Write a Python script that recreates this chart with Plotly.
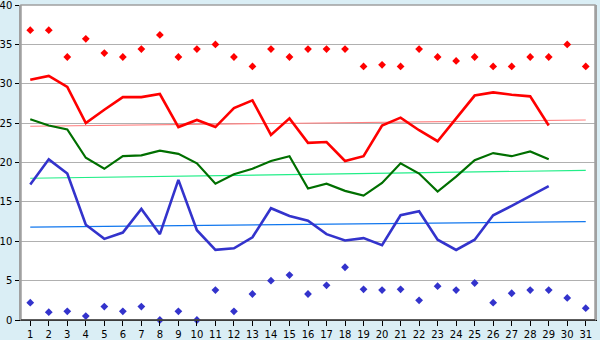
import plotly.graph_objects as go

days = list(range(1, 32))
line_days = list(range(1, 30))

max_points = [36.8, 36.8, 33.4, 35.7, 33.9, 33.4, 34.4, 36.2, 33.4, 34.4,
              35.0, 33.4, 32.2, 34.4, 33.4, 34.4, 34.4, 34.4, 32.2, 32.4,
              32.2, 34.4, 33.4, 32.9, 33.4, 32.2, 32.2, 33.4, 33.4, 35.0, 32.2]
min_points = [2.2, 1.0, 1.1, 0.5, 1.7, 1.1, 1.7, 0.0, 1.1, 0.0,
              3.8, 1.1, 3.3, 5.0, 5.7, 3.3, 4.4, 6.7, 3.9, 3.8,
              3.9, 2.5, 4.3, 3.8, 4.7, 2.2, 3.4, 3.8, 3.8, 2.8, 1.5]
max_line = [30.5, 31.0, 29.6, 25.0, 26.7, 28.3, 28.3, 28.7, 24.5, 25.4,
            24.5, 26.9, 27.9, 23.5, 25.6, 22.5, 22.6, 20.2, 20.8, 24.7,
            25.7, 24.1, 22.7, 25.6, 28.5, 28.9, 28.6, 28.4, 24.7]
mean_line = [25.5, 24.7, 24.2, 20.6, 19.2, 20.8, 20.9, 21.5, 21.1, 19.9,
             17.3, 18.5, 19.2, 20.2, 20.8, 16.7, 17.3, 16.4, 15.8, 17.4,
             19.9, 18.6, 16.3, 18.2, 20.3, 21.2, 20.8, 21.4, 20.4]
min_line = [17.2, 20.4, 18.6, 12.1, 10.3, 11.1, 14.1, 10.9, 17.8, 11.4,
            8.9, 9.1, 10.5, 14.2, 13.2, 12.6, 10.9, 10.1, 10.4, 9.5,
            13.3, 13.8, 10.2, 8.9, 10.2, 13.3, 14.5, 15.7, 17.0]
trend_x = [1, 31]
max_trend = [24.6, 25.4]
mean_trend = [18.0, 19.0]
min_trend = [11.8, 12.5]
y_ticks = [0, 5, 10, 15, 20, 25, 30, 35, 40]

fig = go.Figure()
# trend lines
fig.add_trace(go.Scatter(x=trend_x, y=max_trend, mode="lines",
                         line=dict(color="#FF8080", width=1.2)))
fig.add_trace(go.Scatter(x=trend_x, y=mean_trend, mode="lines",
                         line=dict(color="#22EE88", width=1.2)))
fig.add_trace(go.Scatter(x=trend_x, y=min_trend, mode="lines",
                         line=dict(color="#1177EE", width=1.2)))
# main lines
fig.add_trace(go.Scatter(x=line_days, y=max_line, mode="lines",
                         line=dict(color="#FF0000", width=2.6)))
fig.add_trace(go.Scatter(x=line_days, y=mean_line, mode="lines",
                         line=dict(color="#006F00", width=2.2)))
fig.add_trace(go.Scatter(x=line_days, y=min_line, mode="lines",
                         line=dict(color="#3333CC", width=2.6)))
# points
fig.add_trace(go.Scatter(x=days, y=max_points, mode="markers", cliponaxis=False,
                         marker=dict(symbol="diamond", size=6, color="#FF0000")))
fig.add_trace(go.Scatter(x=days, y=min_points, mode="markers", cliponaxis=False,
                         marker=dict(symbol="diamond", size=6, color="#3333CC")))

fig.update_layout(
    width=600, height=340,
    margin=dict(l=21, r=5, t=5, b=20, autoexpand=False),
    paper_bgcolor="#DAEEF5",
    plot_bgcolor="#FFFFFF",
    showlegend=False,
    font=dict(family="DejaVu Sans", size=10, color="#000000"),
)
fig.update_xaxes(
    range=[0.5, 31.5], tickmode="array", tickvals=days,
    ticktext=[str(d) for d in days], automargin=False,
    ticklabeloverflow="allow",
    showgrid=False, zeroline=False,
    showline=True, linecolor="#000000", linewidth=1,
    ticks="outside", ticklen=5, tickcolor="#000000",
)
fig.update_yaxes(
    range=[0, 40], tickmode="array", tickvals=y_ticks, automargin=False,
    ticklabeloverflow="allow", ticklabelstandoff=1,
    showgrid=True, gridcolor="#B0B0B0", gridwidth=1, zeroline=False,
    showline=True, linecolor="#A0A0A0", linewidth=1.5, mirror=True,
    ticks="outside", ticklen=4, tickcolor="#000000",
)
fig.add_shape(type="rect", xref="paper", yref="paper", x0=0, y0=0, x1=1, y1=1,
              line=dict(color="#A0A0A0", width=1.5))
fig.add_shape(type="line", xref="paper", yref="paper", x0=0, y0=0, x1=1, y1=0,
              line=dict(color="#000000", width=1))

fig.write_html("out.html")
